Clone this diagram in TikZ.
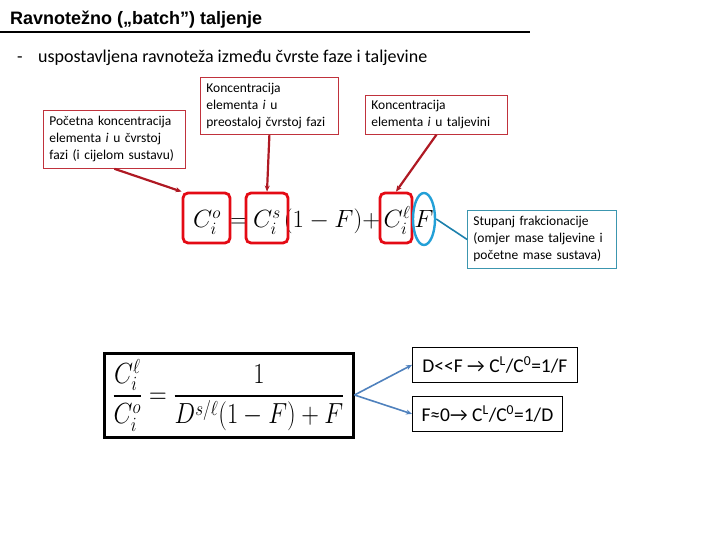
\documentclass[tikz,border=0pt]{standalone}
\usepackage{amsmath}
\usepackage{fontspec}
\setmainfont{Carlito}
\newfontfamily\titlefont{Liberation Sans}
\usetikzlibrary{shapes.geometric,arrows.meta}
\definecolor{boxred}{RGB}{192,50,60}
\definecolor{eqred}{RGB}{228,10,20}
\definecolor{linkred}{RGB}{175,25,35}
\definecolor{fblue}{RGB}{35,160,215}
\definecolor{tealbox}{RGB}{60,150,175}
\definecolor{steel}{RGB}{79,129,189}
\begin{document}
\begin{tikzpicture}[x=1pt,y=-1pt,
  lbl/.style={draw=boxred, line width=0.8pt, fill=white, align=left, anchor=north west,
    inner xsep=6pt, inner ysep=2pt, font=\fontsize{13.5}{17}\selectfont},
  resbox/.style={draw=black, line width=0.8pt, fill=white, anchor=north west, align=left,
    inner xsep=6pt, inner ysep=0pt, minimum height=35pt, font=\fontsize{19.5}{21}\selectfont},
  eqbox/.style={draw=eqred, line width=2.8pt, rounded corners=5pt, minimum height=50pt, inner sep=0pt},
  eqtxt/.style={anchor=base, inner sep=0pt, font=\fontsize{27}{32}\selectfont},
  redlink/.style={draw=linkred, line width=2.2pt, -{Stealth[length=6pt,width=5pt]}},
  bluelink/.style={draw=steel, line width=1.6pt, -{Stealth[length=6pt,width=5pt]}}]
\useasboundingbox (0,0) rectangle (720,540);

% title
\node[anchor=base west, inner sep=0pt, font=\titlefont\bfseries\fontsize{18}{21}\selectfont] (title) at (10,25) {Ravnotežno („batch”) taljenje};
\draw[line width=2pt] (0,32) -- (530,32);

% bullet
\node[anchor=base west, inner sep=0pt, font=\fontsize{18}{21}\selectfont] (dash) at (17,63) {-};
\node[anchor=base west, inner sep=0pt, font=\fontsize{18}{21}\selectfont] (bullet) at (38,63) {uspostavljena ravnoteža između čvrste faze i taljevine};

% label boxes
\node[lbl, text width=130pt, minimum height=58pt] (n1) at (43,110) {Početna koncentracija\\elementa \textit{i} u čvrstoj\\fazi (i cijelom sustavu)};
\node[lbl, text width=126pt, minimum height=57pt] (n2) at (200,77) {Koncentracija\\elementa \textit{i} u\\preostaloj čvrstoj fazi};
\node[lbl, text width=130pt, minimum height=39pt] (n3) at (365,95) {Koncentracija\\elementa \textit{i} u taljevini};
\node[lbl, draw=tealbox, text width=137pt, minimum height=58pt] (n4) at (467,210) {Stupanj frakcionacije\\(omjer mase taljevine i\\početne mase sustava)};

% equation pieces
\node[eqtxt] (tA) at (207,228) {$C_i^o$};
\node[eqtxt] (teq) at (239,228) {$=$};
\node[eqtxt] (tB) at (267,228) {$C_i^s$};
\node[eqtxt] (tmid) at (332,228) {$(1-F)+$};
\node[eqtxt] (tC) at (397,228) {$C_i^\ell$};
\node[eqtxt] (tF) at (424,228) {$F$};

\node[eqbox, minimum width=47pt] (boxA) at (206.5,218) {};
\node[eqbox, minimum width=42pt] (boxB) at (267,218) {};
\node[eqbox, minimum width=32pt] (boxC) at (396,218) {};
\node[draw=fblue, line width=2.4pt, ellipse, minimum width=22pt, minimum height=52pt, inner sep=0pt] (ellF) at (424,219) {};

% connectors
\draw[redlink] (n1.south) -- (boxA.north west);
\draw[redlink] (n2.south) -- (boxB.north);
\draw[redlink] (n3.south) -- (boxC.north);
\draw[draw=fblue!80!black, line width=1.6pt] (ellF.east) -- (n4.west);

% formula box
\node[draw=black, line width=3pt, minimum width=249pt, minimum height=84pt, inner sep=0pt] (fbox) at (228.5,395)
  {\resizebox*{232pt}{72pt}{\fontsize{24}{28}\selectfont$\dfrac{C_i^\ell}{C_i^o}=\dfrac{1}{D^{s/\ell}(1-F)+F}$}};

% result boxes
\node[resbox, minimum width=165pt] (n5) at (412,347) {D{<}{<}F → C\textsuperscript{L}/C\textsuperscript{0}=1/F};
\node[resbox, minimum width=150pt] (n6) at (412,396) {F≈0→ C\textsuperscript{L}/C\textsuperscript{0}=1/D};

\draw[bluelink] (fbox.east) -- (n5.west);
\draw[bluelink] (fbox.east) -- (n6.west);
\end{tikzpicture}
\end{document}
